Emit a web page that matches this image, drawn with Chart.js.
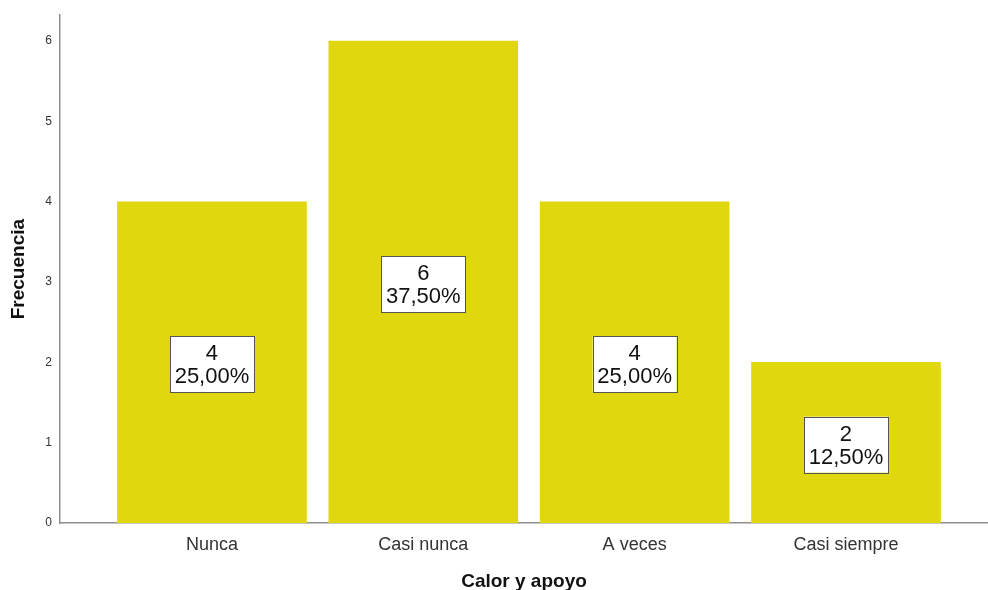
<!DOCTYPE html>
<html>
<head>
<meta charset="utf-8">
<script src="https://cdn.jsdelivr.net/npm/chart.js@4"></script>
<style>
    html, body { margin: 0; padding: 0; background: #fff; }
    #wrap { width: 988px; height: 590px; position: relative; }
</style>
</head>
<body>
<div id="wrap"><canvas id="freqChart"></canvas></div>
<script>
// Calor y apoyo - frequency per category
const categories = ['Nunca', 'Casi nunca', 'A veces', 'Casi siempre'];
const frequencies = [4, 6, 4, 2];
const percentLabels = ['25,00%', '37,50%', '25,00%', '12,50%'];
const yTicks = [0, 1, 2, 3, 4, 5, 6];

const barColor = '#e1d70f';
const axisColor = '#8f8f8f';
const fontFamily = '"Liberation Sans", Arial, sans-serif';

// Draw the white count / percent boxes in the middle of each bar
const boxLabels = {
    id: 'boxLabels',
    afterDatasetsDraw(chart) {
        const ctx = chart.ctx;
        const meta = chart.getDatasetMeta(0);
        ctx.save();
        meta.data.forEach((bar, i) => {
            const cx = bar.x;
            const cy = (bar.y + bar.base) / 2 + 2;
            const w = 84, h = 56;
            ctx.fillStyle = '#ffffff';
            ctx.fillRect(cx - w / 2, cy - h / 2, w, h);
            ctx.strokeStyle = '#555555';
            ctx.lineWidth = 1;
            ctx.strokeRect(Math.round(cx - w / 2) + 0.5, Math.round(cy - h / 2) + 0.5, w, h);
            ctx.fillStyle = '#111111';
            ctx.font = '22px ' + fontFamily;
            ctx.textAlign = 'center';
            ctx.textBaseline = 'middle';
            ctx.fillText(String(frequencies[i]), cx, cy - 10);
            ctx.fillText(percentLabels[i], cx, cy + 13);
        });
        ctx.restore();
    }
};

new Chart(document.getElementById('freqChart').getContext('2d'), {
    type: 'bar',
    data: {
        datasets: [{
            data: frequencies.map((v, i) => ({ x: i, y: v })),
            backgroundColor: barColor,
            borderWidth: 0,
            barThickness: 189
        }]
    },
    options: {
        responsive: true,
        maintainAspectRatio: false,
        animation: false,
        layout: { padding: { top: 11, right: 0, left: 0, bottom: 0 } },
        plugins: {
            legend: { display: false },
            tooltip: { enabled: false }
        },
        scales: {
            x: {
                type: 'linear',
                offset: false,
                min: -0.719,
                max: 3.672,
                grid: { display: false, drawTicks: false },
                border: { display: true, color: axisColor, width: 1.5 },
                afterBuildTicks: scale => {
                    scale.ticks = categories.map((c, i) => ({ value: i }));
                },
                afterFit: scale => { scale.height = 67; },
                ticks: {
                    padding: 11,
                    color: '#333333',
                    font: { family: fontFamily, size: 18 },
                    callback: value => categories[value]
                },
                title: {
                    display: true,
                    text: 'Calor y apoyo',
                    color: '#111111',
                    font: { family: fontFamily, size: 19, weight: 'bold' },
                    padding: { top: 0, bottom: -3 }
                }
            },
            y: {
                min: 0,
                max: 6.322,
                grid: { display: false, drawTicks: false },
                border: { display: true, color: axisColor, width: 1.5 },
                afterBuildTicks: scale => {
                    scale.ticks = yTicks.map(v => ({ value: v }));
                },
                afterFit: scale => { scale.width = 60; },
                ticks: {
                    padding: 8,
                    color: '#333333',
                    font: { family: fontFamily, size: 12 }
                },
                title: {
                    display: true,
                    text: 'Frecuencia',
                    color: '#111111',
                    font: { family: fontFamily, size: 19, weight: 'bold' },
                    padding: { top: 7, bottom: 0 }
                }
            }
        }
    },
    plugins: [boxLabels]
});
</script>
</body>
</html>
